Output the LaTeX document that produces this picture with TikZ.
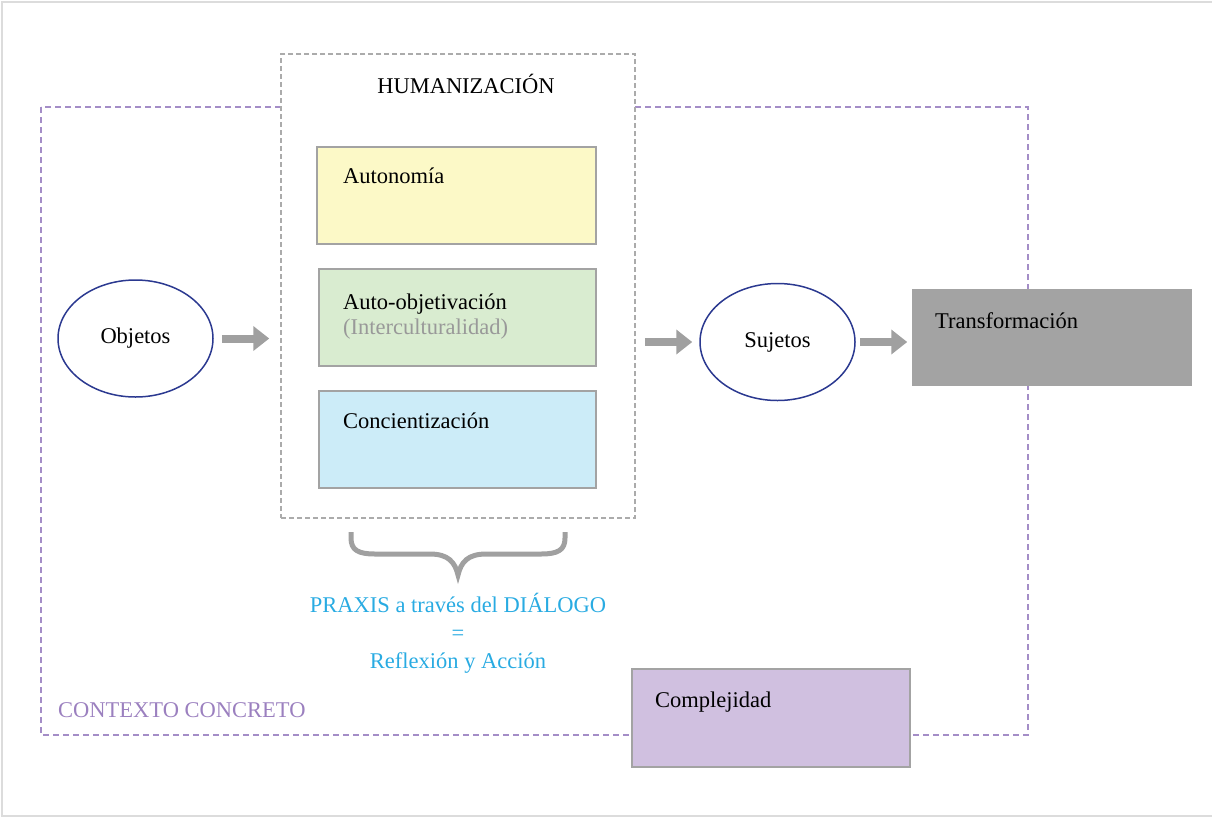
\documentclass[tikz,border=0pt]{standalone}
\usepackage{fontspec}
\setmainfont{Liberation Serif}
\usetikzlibrary{arrows.meta,shapes.geometric}

\definecolor{framegray}{HTML}{DCDCDC}
\definecolor{ctxpurple}{HTML}{A48DC7}
\definecolor{ctxtext}{HTML}{9B80BF}
\definecolor{boxgray}{HTML}{A3A3A3}
\definecolor{dashgray}{HTML}{ABABAB}
\definecolor{arrowgray}{HTML}{A0A0A0}
\definecolor{agentblue}{HTML}{2B3990}
\definecolor{autofill}{HTML}{FCF9C7}
\definecolor{objfill}{HTML}{D9ECD0}
\definecolor{concfill}{HTML}{CCECF8}
\definecolor{transfill}{HTML}{A3A3A3}
\definecolor{complfill}{HTML}{D0C0E0}
\definecolor{praxisblue}{HTML}{29ABE2}
\definecolor{notegray}{HTML}{999999}

\tikzset{
  box/.style={draw=boxgray, line width=1.5pt, minimum width=277pt,
    minimum height=97pt, inner sep=0pt},
  agent/.style={ellipse, draw=agentblue, line width=1.5pt, minimum width=155pt,
    minimum height=117pt, inner sep=0pt},
  flow/.style={draw=arrowgray, line width=8pt,
    -{Triangle[length=16pt,width=24pt]}},
  boxlabel/.style={anchor=base west, inner sep=0pt},
  praxisline/.style={anchor=base, inner sep=0pt, text=praxisblue},
}

\begin{document}
\begin{tikzpicture}[x=1pt, y=-1pt, font=\fontsize{22.5}{28}\selectfont]
\useasboundingbox (0,0) rectangle (1212,817);
\draw[framegray, line width=2pt] (2,2) rectangle (1216,815.5);

% concrete context
\draw[ctxpurple, line width=1.5pt, dash pattern=on 6pt off 4pt]
  (41,107) rectangle (1028,735);
\node[boxlabel, text=ctxtext] (ctx) at (58,717) {CONTEXTO CONCRETO};

% humanization
\node[draw=dashgray, fill=white, line width=1.5pt, dash pattern=on 5pt off 3pt,
  minimum width=354pt, minimum height=464pt, inner sep=0pt] (hum) at (458,286) {};
\node[anchor=base, inner sep=0pt] (humtitle) at (466,93) {HUMANIZACIÓN};

\node[box, fill=autofill, minimum width=279pt] (auto) at (456.5,195.5) {};
\node[boxlabel] (autotext) at (343,183) {Autonomía};

\node[box, fill=objfill] (obj) at (457.5,317.5) {};
\node[boxlabel] (objtext) at (343,309) {Auto-objetivación};
\node[boxlabel, text=notegray] (objnote) at (343,334) {(Interculturalidad)};

\node[box, fill=concfill] (conc) at (457.5,439.5) {};
\node[boxlabel] (conctext) at (343,428) {Concientización};

% agents and result
\node[agent] (objetos) at (135.5,338.5) {Objetos};
\node[agent] (suj) at (777.5,342) {Sujetos};
\node[box, draw=none, fill=transfill, minimum width=280pt] (trans) at (1052,337.5) {};
\node[boxlabel] (transtext) at (935,328) {Transformación};

\node[box, fill=complfill, minimum width=278pt, minimum height=98pt] (compl) at (771,718) {};
\node[boxlabel] (compltext) at (655,707) {Complejidad};

% flow
\draw[flow, shorten <=8pt, shorten >=11pt] (objetos.east) -- (hum.west |- objetos.east);
\draw[flow, shorten <=9pt, shorten >=7pt] (hum.east |- suj.west) -- (suj.west);
\draw[flow, shorten <=4pt, shorten >=4pt] (suj.east) -- (trans.west |- suj.east);

% praxis brace
\draw[arrowgray, line width=5pt]
  (351,532) -- (351,538) .. controls (351,550) and (358,554) .. (375,554)
  -- (430,554) .. controls (448,554) and (455,562) .. (458,575)
  .. controls (461,562) and (468,554) .. (486,554)
  -- (541,554) .. controls (558,554) and (565,550) .. (565,538) -- (565,532);
\node[praxisline] (praxis) at (458,612) {PRAXIS a través del DIÁLOGO};
\node[praxisline] (equals) at (458,640) {=};
\node[praxisline] (accion) at (458,668) {Reflexión y Acción};
\end{tikzpicture}
\end{document}
